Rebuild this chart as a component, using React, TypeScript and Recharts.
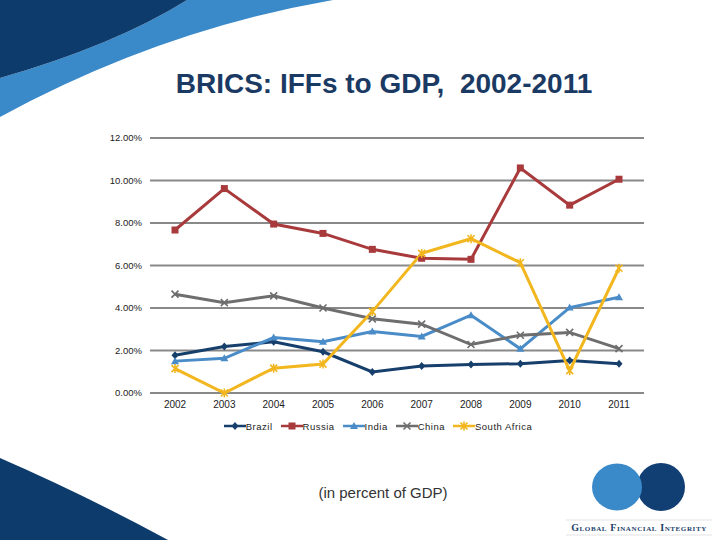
import { CartesianGrid, Line, LineChart, XAxis, YAxis } from "recharts";

const years = ["2002", "2003", "2004", "2005", "2006", "2007", "2008", "2009", "2010", "2011"];
const brazil = [1.78, 2.19, 2.41, 1.94, 0.99, 1.27, 1.34, 1.38, 1.53, 1.38];
const russia = [7.67, 9.62, 7.95, 7.51, 6.76, 6.34, 6.29, 10.59, 8.84, 10.06];
const india = [1.5, 1.63, 2.61, 2.41, 2.89, 2.66, 3.66, 2.08, 4.02, 4.51];
const china = [4.65, 4.25, 4.57, 4.0, 3.49, 3.24, 2.28, 2.72, 2.85, 2.09];
const southAfrica = [1.15, 0, 1.17, 1.36, 3.83, 6.57, 7.26, 6.13, 1.05, 5.87];
const yTicks = [0, 2, 4, 6, 8, 10, 12];

const series = [
  { key: "brazil", name: "Brazil", color: "#173F6C", shape: "diamond", values: brazil },
  { key: "russia", name: "Russia", color: "#A83A3C", shape: "square", values: russia },
  { key: "india", name: "India", color: "#4A8CC8", shape: "triangle", values: india },
  { key: "china", name: "China", color: "#6E6E6E", shape: "x", values: china },
  { key: "southAfrica", name: "South Africa", color: "#F2B61E", shape: "star", values: southAfrica },
];

const data = years.map((year, i) => {
  const row: Record<string, string | number> = { year };
  series.forEach((s) => {
    row[s.key] = s.values[i];
  });
  return row;
});

const FONT = "'Liberation Sans', Arial, sans-serif";

function Marker({ shape, color, cx, cy }: { shape: string; color: string; cx: number; cy: number }) {
  const s = 3.5;
  switch (shape) {
    case "diamond":
      return <path d={`M${cx},${cy - 4}L${cx + 3.5},${cy}L${cx},${cy + 4}L${cx - 3.5},${cy}Z`} fill={color} />;
    case "square":
      return <rect x={cx - s} y={cy - s} width={s * 2} height={s * 2} fill={color} />;
    case "triangle":
      return <path d={`M${cx},${cy - 4}L${cx + 4},${cy + 3}L${cx - 4},${cy + 3}Z`} fill={color} />;
    case "x":
      return (
        <path
          d={`M${cx - s},${cy - s}L${cx + s},${cy + s}M${cx + s},${cy - s}L${cx - s},${cy + s}`}
          stroke={color}
          strokeWidth={1.6}
        />
      );
    default:
      return (
        <path
          d={`M${cx - s},${cy - s}L${cx + s},${cy + s}M${cx + s},${cy - s}L${cx - s},${cy + s}M${cx},${cy - 4.5}L${cx},${cy + 4.5}`}
          stroke={color}
          strokeWidth={1.6}
        />
      );
  }
}

function Background() {
  return (
    <svg width={720} height={540} style={{ position: "absolute", left: 0, top: 0 }}>
      {/* swooshes */}
      <path d="M187,0 L333,0 Q160,30 0,117 L0,78 Q115,45 187,0 Z" fill="#3A89C9" />
      <path d="M0,0 L187,0 Q115,45 0,78 Z" fill="#0D3B6B" />
      <path d="M0,458 Q85,495 168,540 L0,540 Z" fill="#0D3B6B" />
      {/* logo */}
      <ellipse cx={661} cy={487} rx={24} ry={24} fill="#123F73" />
      <ellipse cx={617} cy={487} rx={25} ry={23.5} fill="#3A89C9" />
      <line x1={566} y1={520} x2={712} y2={520} stroke="#dcdcdc" strokeWidth={0.8} />
      <line x1={566} y1={535} x2={712} y2={535} stroke="#dcdcdc" strokeWidth={0.8} />
      <text
        x={639}
        y={531}
        textAnchor="middle"
        fontFamily="'Liberation Serif', serif"
        fontSize={10}
        fontWeight="bold"
        letterSpacing={0.6}
        fill="#1C416C"
        style={{ fontVariant: "small-caps" }}
      >
        Global Financial Integrity
      </text>
      <text
        x={384}
        y={93}
        textAnchor="middle"
        fontFamily={FONT}
        fontSize={28}
        fontWeight="bold"
        fill="#1B3A63"
        style={{ whiteSpace: "pre" }}
      >
        {"BRICS: IFFs to GDP,  2002-2011"}
      </text>
      <text x={383} y={498} textAnchor="middle" fontFamily={FONT} fontSize={15} fill="#333">
        (in percent of GDP)
      </text>
    </svg>
  );
}

function ChartLegend() {
  return (
    <div
      style={{
        position: "absolute",
        left: 0,
        top: 419,
        width: 764,
        display: "flex",
        justifyContent: "center",
        fontFamily: FONT,
        fontSize: 9.5,
        letterSpacing: 0.5,
        color: "#222",
      }}
    >
      {series.map((s) => (
        <div key={s.key} style={{ display: "flex", alignItems: "center", marginRight: 8 }}>
          <svg width={22} height={14}>
            <line x1={0} y1={7} x2={22} y2={7} stroke={s.color} strokeWidth={2.5} />
            <Marker shape={s.shape} color={s.color} cx={11} cy={7} />
          </svg>
          <span>{s.name}</span>
        </div>
      ))}
    </div>
  );
}

export default function App() {
  return (
    <div style={{ position: "absolute", left: 0, top: 0, width: 720, height: 540, background: "#fff" }}>
      <Background />
      <div style={{ position: "absolute", left: 0, top: 0 }}>
        <LineChart
          width={720}
          height={540}
          data={data}
          margin={{ top: 138, right: 76, bottom: 117, left: 100 }}
        >
          <CartesianGrid vertical={false} stroke="#898989" strokeWidth={2} />
          <XAxis
            dataKey="year"
            axisLine={false}
            tickLine={false}
            padding={{ left: 25, right: 25 }}
            tick={{ fontSize: 10, fill: "#222", fontFamily: FONT }}
            height={30}
          />
          <YAxis
            domain={[0, 12]}
            ticks={yTicks}
            width={50}
            axisLine={false}
            tickLine={false}
            tickFormatter={(v: number) => `${v.toFixed(2)}%`}
            tick={{ fontSize: 9.5, fill: "#222", fontFamily: FONT }}
          />
          {series.map((s) => (
            <Line
              key={s.key}
              dataKey={s.key}
              name={s.name}
              stroke={s.color}
              strokeWidth={3}
              isAnimationActive={false}
              dot={(props: any) => (
                <Marker key={`${s.key}-${props.index}`} shape={s.shape} color={s.color} cx={props.cx} cy={props.cy} />
              )}
            />
          ))}
        </LineChart>
      </div>
      <ChartLegend />
    </div>
  );
}
